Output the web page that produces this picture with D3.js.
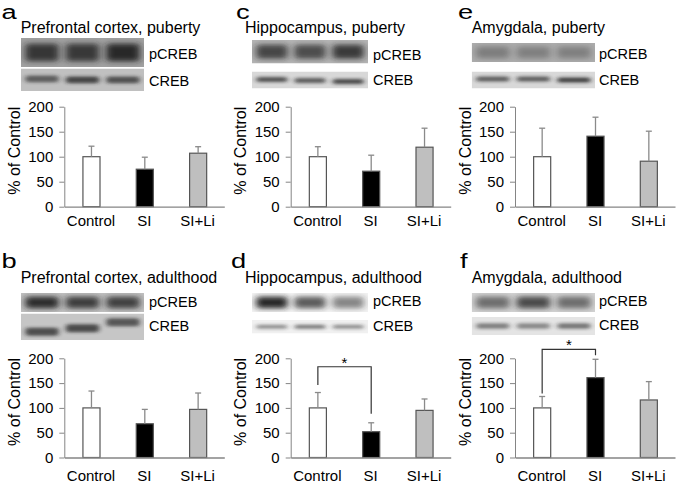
<!DOCTYPE html>
<html><head><meta charset="utf-8">
<script src="https://cdn.jsdelivr.net/npm/d3@7"></script>
<style>
html,body{margin:0;padding:0;background:#fff;}
svg{display:block;font-family:"Liberation Sans",Arial,sans-serif;}
</style></head>
<body>
<svg id="chart" width="676" height="486"></svg>
<script>
// ---------- DATA ----------
const categories = ["Control", "SI", "SI+Li"];
const panelLetters = ["a", "b", "c", "d", "e", "f"];
const panelTitles = [
  "Prefrontal cortex, puberty", "Prefrontal cortex, adulthood",
  "Hippocampus, puberty", "Hippocampus, adulthood",
  "Amygdala, puberty", "Amygdala, adulthood"
];
const blotLabels = ["pCREB", "CREB"];
const yTicks = [0, 50, 100, 150, 200];
const yLabel = "% of Control";
// means (% of control) and upper error per panel a..f
const meanA = [100, 75, 107], errA = [21, 24, 13];
const meanB = [100, 68, 97],  errB = [34, 29, 33];
const meanC = [100, 71, 119], errC = [20, 32, 38];
const meanD = [100, 52, 95],  errD = [31, 18, 23];
const meanE = [100, 141, 91], errE = [57, 38, 60];
const meanF = [100, 161, 116], errF = [23, 37, 37];
const means = [meanA, meanB, meanC, meanD, meanE, meanF];
const errs  = [errA, errB, errC, errD, errE, errF];
// significance brackets: [panel index, from category, to category, level, left leg end, right leg end]
const brackets = [
  [3, "Control", "SI", 183, 146, 88],
  [5, "Control", "SI", 218, 129, 206]
];
const starLabel = "*";
// blot band darkness per lane (0..1)
const pcrebBands = [
  [0.80, 0.78, 0.90], [0.90, 0.80, 0.78], [0.72, 0.68, 0.80],
  [0.95, 0.70, 0.50], [0.32, 0.30, 0.30], [0.55, 0.75, 0.55]
];
const crebBands = [
  [0.60, 0.75, 0.68], [0.70, 0.72, 0.65], [0.70, 0.65, 0.75],
  [0.45, 0.55, 0.45], [0.65, 0.65, 0.80], [0.50, 0.45, 0.55]
];

// ---------- LAYOUT (positions / styles) ----------
const cols = [
  {ax: 64.3, titleX: 20.7, blotX0: 21, blotX1: 144, labX: 149},
  {ax: 290.7, titleX: 245, blotX0: 252, blotX1: 368, labX: 373},
  {ax: 515, titleX: 471.7, blotX0: 471.7, blotX1: 595, labX: 599}
];
const rows = [
  {yTop: 106.7, yBase: 206.7, titleY: 33.3, letterY: 19, catDy: 20},
  {yTop: 358.3, yBase: 457.5, titleY: 283.3, letterY: 268, catDy: 24}
];
const letterX = [1.5, 1.5, 236, 231, 458, 460];
// blot geometry per panel: [pTop, pBottom, cTop, cBottom, pLabY, cLabY]
const blotGeo = [
  [38, 67, 68.5, 91, 59, 85.5],
  [293, 312, 313.5, 340, 307, 331],
  [40, 63.5, 71.5, 88.5, 59.5, 85],
  [293, 312, 320, 333.5, 306, 331],
  [43, 62, 71.5, 88.5, 58.5, 85],
  [293, 312, 317, 335, 306, 330]
];
const blotBg = [
  ["#a0a0a0", "#c0c0c0"], ["#c0c0c0", "#c6c6c6"], ["#b4b4b4", "#d8d8d8"],
  ["#f2f2f2", "#f0f0f0"], ["#acacac", "#d8d8d8"], ["#d2d2d2", "#e4e4e4"]
];
const crebShift = [
  [-1, 0, 0], [5, 1.5, -4.5], [-0.5, 0.5, 1.5], [0, 0, 0], [-1, -1, 0], [0, 0, 0]
];
const fillColors = ["#ffffff", "#000000", "#bfbfbf"];

const svg = d3.select("#chart");
const defs = svg.append("defs");
defs.append("filter").attr("id", "blurP").attr("x", "-30%").attr("y", "-60%").attr("width", "160%").attr("height", "220%")
  .append("feGaussianBlur").attr("stdDeviation", "3.5 2.6");
defs.append("filter").attr("id", "blurC").attr("x", "-30%").attr("y", "-100%").attr("width", "160%").attr("height", "300%")
  .append("feGaussianBlur").attr("stdDeviation", "2.8 1.4");

means.forEach((mv, i) => {
  const col = cols[Math.floor(i / 2)], row = rows[i % 2];
  const g = svg.append("g");
  const geo = blotGeo[i];

  // panel letter
  g.append("text").attr("transform", `translate(${letterX[i]},${row.letterY}) scale(1.3,1)`)
    .attr("font-size", 21).attr("fill", "#000").text(panelLetters[i]);
  // title
  g.append("text").attr("x", col.titleX).attr("y", row.titleY)
    .attr("font-size", 16).attr("fill", "#000").text(panelTitles[i]);

  // blots
  const lane = d3.scaleBand().domain(d3.range(3)).range([col.blotX0, col.blotX1]).paddingInner(0.08).paddingOuter(0.06);
  const strips = [
    {top: geo[0], bot: geo[1], bg: blotBg[i][0], bands: pcrebBands[i], filt: "url(#blurP)", hFrac: 0.6, shift: [0,0,0]},
    {top: geo[2], bot: geo[3], bg: blotBg[i][1], bands: crebBands[i], filt: "url(#blurC)", hFrac: 0.3, shift: crebShift[i]}
  ];
  strips.forEach((s, si) => {
    const cid = `clip${i}_${si}`;
    defs.append("clipPath").attr("id", cid).append("rect")
      .attr("x", col.blotX0).attr("y", s.top).attr("width", col.blotX1 - col.blotX0).attr("height", s.bot - s.top);
    const sg = g.append("g").attr("clip-path", `url(#${cid})`);
    sg.append("rect").attr("x", col.blotX0).attr("y", s.top).attr("width", col.blotX1 - col.blotX0)
      .attr("height", s.bot - s.top).attr("fill", s.bg);
    const h = Math.max(4, (s.bot - s.top) * s.hFrac);
    const mid = (s.top + s.bot) / 2;
    sg.selectAll("rect.band").data(s.bands).join("rect").attr("class", "band")
      .attr("x", (d, k) => lane(k) + 2).attr("width", lane.bandwidth() - 4)
      .attr("y", (d, k) => mid - h / 2 + s.shift[k]).attr("height", h)
      .attr("rx", 3)
      .attr("fill", "#1e1e1e").attr("opacity", d => d).attr("filter", s.filt);
    g.append("text").attr("x", col.labX).attr("y", geo[4 + si]).attr("font-size", 14.5)
      .attr("fill", "#000").text(blotLabels[si]);
  });

  // bar chart
  const x = d3.scaleBand().domain(categories).range([col.ax, col.ax + 160]).paddingInner(0.68).paddingOuter(0.34);
  const y = d3.scaleLinear().domain([0, 200]).range([row.yBase, row.yTop]);

  const yAxis = g.append("g").attr("transform", `translate(${col.ax},0)`)
    .call(d3.axisLeft(y).tickValues(yTicks).tickSize(5).tickPadding(6).tickSizeOuter(0));
  yAxis.select(".domain").attr("stroke", "#858585");
  yAxis.selectAll(".tick line").attr("stroke", "#858585");
  yAxis.selectAll(".tick text").attr("font-size", 15).attr("fill", "#000")
    .attr("font-family", "Liberation Sans, Arial, sans-serif");

  // bars
  g.selectAll("rect.bar").data(mv).join("rect").attr("class", "bar")
    .attr("x", (d, k) => x(categories[k]) + 0.5).attr("width", x.bandwidth())
    .attr("y", d => y(d)).attr("height", d => y(0) - y(d))
    .attr("fill", (d, k) => fillColors[k]).attr("stroke", "#555").attr("stroke-width", 1.2);

  // error bars
  const ev = errs[i];
  const cx = k => x(categories[k]) + 0.5 + x.bandwidth() / 2;
  g.selectAll("line.err").data(mv).join("line").attr("class", "err")
    .attr("x1", (d, k) => cx(k)).attr("x2", (d, k) => cx(k))
    .attr("y1", d => y(d)).attr("y2", (d, k) => y(d + ev[k]))
    .attr("stroke", "#8a8a8a").attr("stroke-width", 1.3);
  g.selectAll("line.cap").data(mv).join("line").attr("class", "cap")
    .attr("x1", (d, k) => cx(k) - 3).attr("x2", (d, k) => cx(k) + 3)
    .attr("y1", (d, k) => y(d + ev[k])).attr("y2", (d, k) => y(d + ev[k]))
    .attr("stroke", "#8a8a8a").attr("stroke-width", 1.3);

  // x axis baseline
  const xAxis = g.append("g").attr("transform", `translate(0,${row.yBase})`)
    .call(d3.axisBottom(x).tickSize(0).tickPadding(row.catDy - 11).tickSizeOuter(0));
  xAxis.select(".domain").attr("stroke", "#858585").attr("stroke-width", 1.3);
  xAxis.selectAll(".tick text").attr("font-size", 15).attr("fill", "#000")
    .attr("font-family", "Liberation Sans, Arial, sans-serif");

  // y label
  g.append("text").attr("transform", `translate(${col.ax - 44.5},${(row.yTop + row.yBase) / 2 - 6}) rotate(-90)`)
    .attr("text-anchor", "middle").attr("font-size", 16).attr("fill", "#000").text(yLabel);
});

// significance brackets
brackets.forEach(([pi, c1, c2, lvl, l1, l2]) => {
  const col = cols[Math.floor(pi / 2)], row = rows[pi % 2];
  const x = d3.scaleBand().domain(categories).range([col.ax, col.ax + 160]).paddingInner(0.68).paddingOuter(0.34);
  const y = d3.scaleLinear().domain([0, 200]).range([row.yBase, row.yTop]);
  const xa = x(c1) + 0.5 + x.bandwidth() / 2, xb = x(c2) + 0.5 + x.bandwidth() / 2;
  const path = d3.path();
  path.moveTo(xa, y(l1)); path.lineTo(xa, y(lvl)); path.lineTo(xb, y(lvl)); path.lineTo(xb, y(l2));
  svg.append("path").attr("d", path.toString()).attr("fill", "none").attr("stroke", "#333").attr("stroke-width", 1.2);
  svg.append("text").attr("x", (xa + xb) / 2).attr("y", y(lvl) + 1).attr("text-anchor", "middle")
    .attr("font-size", 15).attr("fill", "#000").text(starLabel);
});
</script>
</body></html>
